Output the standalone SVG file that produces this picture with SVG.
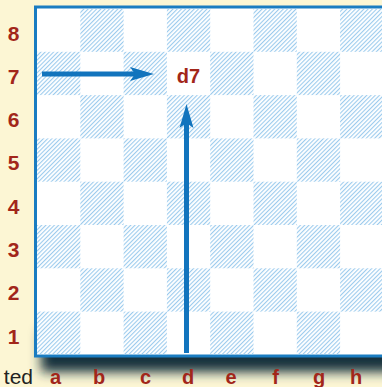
<svg xmlns="http://www.w3.org/2000/svg" width="382" height="387" viewBox="0 0 382 387">
  <style>
    .rank { font-family: "Liberation Sans", Arial, sans-serif; font-weight: bold; font-size: 21px; fill: #a2261a; text-anchor: middle; }
    .file { font-family: "Liberation Sans", Arial, sans-serif; font-weight: bold; font-size: 20px; fill: #a2261a; text-anchor: middle; }
    .lbl { font-family: "Liberation Sans", Arial, sans-serif; font-weight: bold; font-size: 20px; fill: #a2261a; text-anchor: middle; }
    .cap { font-family: "Liberation Sans", Arial, sans-serif; font-size: 21px; fill: #222222; }
    .dark { fill: url(#hatch); }
    .arrow { stroke: #1274bd; stroke-width: 5; fill: none; marker-end: url(#head); }
  </style>
  <defs>
    <pattern id="hatch" patternUnits="userSpaceOnUse" width="3" height="10" patternTransform="rotate(45)">
      <line x1="0.6" y1="0" x2="0.6" y2="10" stroke="#92c6ec" stroke-width="1"/>
    </pattern>
    <filter id="blur" x="-20%" y="-100%" width="140%" height="300%">
      <feGaussianBlur stdDeviation="6"/>
    </filter>
    <marker id="head" markerUnits="userSpaceOnUse" viewBox="0 -8 25 16" refX="5" refY="0" markerWidth="25" markerHeight="16" orient="auto">
      <path d="M0,-7 L24,0 L0,7 L5,0 Z" fill="#1274bd"/>
    </marker>
  </defs>
  <rect x="0" y="0" width="382" height="387" fill="#fcf6d4"/>
  <!-- shadow -->
  <rect x="41" y="330" width="400" height="42" fill="#18303c" filter="url(#blur)"/>
  <!-- board -->
  <g id="board">
    <rect x="35.5" y="7" width="352" height="349" fill="#ffffff" stroke="#1a7cc1" stroke-width="3"/>
    <g id="squares" transform="translate(37,8.5)">
      <rect class="dark" x="43.3" y="0" width="43.3" height="43.3"/>
      <rect class="dark" x="129.9" y="0" width="43.3" height="43.3"/>
      <rect class="dark" x="216.5" y="0" width="43.3" height="43.3"/>
      <rect class="dark" x="303.1" y="0" width="43.3" height="43.3"/>
      <rect class="dark" x="0" y="43.3" width="43.3" height="43.3"/>
      <rect class="dark" x="86.6" y="43.3" width="43.3" height="43.3"/>
      <rect class="dark" x="173.2" y="43.3" width="43.3" height="43.3"/>
      <rect class="dark" x="259.8" y="43.3" width="43.3" height="43.3"/>
      <rect class="dark" x="43.3" y="86.6" width="43.3" height="43.3"/>
      <rect class="dark" x="129.9" y="86.6" width="43.3" height="43.3"/>
      <rect class="dark" x="216.5" y="86.6" width="43.3" height="43.3"/>
      <rect class="dark" x="303.1" y="86.6" width="43.3" height="43.3"/>
      <rect class="dark" x="0" y="129.9" width="43.3" height="43.3"/>
      <rect class="dark" x="86.6" y="129.9" width="43.3" height="43.3"/>
      <rect class="dark" x="173.2" y="129.9" width="43.3" height="43.3"/>
      <rect class="dark" x="259.8" y="129.9" width="43.3" height="43.3"/>
      <rect class="dark" x="43.3" y="173.2" width="43.3" height="43.3"/>
      <rect class="dark" x="129.9" y="173.2" width="43.3" height="43.3"/>
      <rect class="dark" x="216.5" y="173.2" width="43.3" height="43.3"/>
      <rect class="dark" x="303.1" y="173.2" width="43.3" height="43.3"/>
      <rect class="dark" x="0" y="216.5" width="43.3" height="43.3"/>
      <rect class="dark" x="86.6" y="216.5" width="43.3" height="43.3"/>
      <rect class="dark" x="173.2" y="216.5" width="43.3" height="43.3"/>
      <rect class="dark" x="259.8" y="216.5" width="43.3" height="43.3"/>
      <rect class="dark" x="43.3" y="259.8" width="43.3" height="43.3"/>
      <rect class="dark" x="129.9" y="259.8" width="43.3" height="43.3"/>
      <rect class="dark" x="216.5" y="259.8" width="43.3" height="43.3"/>
      <rect class="dark" x="303.1" y="259.8" width="43.3" height="43.3"/>
      <rect class="dark" x="0" y="303.1" width="43.3" height="43.3"/>
      <rect class="dark" x="86.6" y="303.1" width="43.3" height="43.3"/>
      <rect class="dark" x="173.2" y="303.1" width="43.3" height="43.3"/>
      <rect class="dark" x="259.8" y="303.1" width="43.3" height="43.3"/>
    </g>
  </g>
  <g id="ranks">
    <text class="rank" x="13.5" y="40.5">8</text>
    <text class="rank" x="13.5" y="83.5">7</text>
    <text class="rank" x="13.5" y="126.5">6</text>
    <text class="rank" x="13.5" y="170">5</text>
    <text class="rank" x="13.5" y="213.5">4</text>
    <text class="rank" x="13.5" y="256.5">3</text>
    <text class="rank" x="13.5" y="300">2</text>
    <text class="rank" x="13.5" y="343.5">1</text>
  </g>
  <g id="files">
    <text class="file" x="55.5" y="384">a</text>
    <text class="file" x="99" y="384">b</text>
    <text class="file" x="145.5" y="384">c</text>
    <text class="file" x="188" y="384">d</text>
    <text class="file" x="231" y="384">e</text>
    <text class="file" x="275.5" y="384">f</text>
    <text class="file" x="319" y="384">g</text>
    <text class="file" x="356" y="384">h</text>
  </g>
  <text class="cap" x="33" y="384" text-anchor="end">ted</text>
  <g id="connectors">
    <path class="arrow" d="M42,74 L135,74"/>
    <path class="arrow" d="M186.5,353 L186.5,123"/>
  </g>
  <g id="d7">
    <text class="lbl" x="188.5" y="82.5">d7</text>
  </g>
</svg>
